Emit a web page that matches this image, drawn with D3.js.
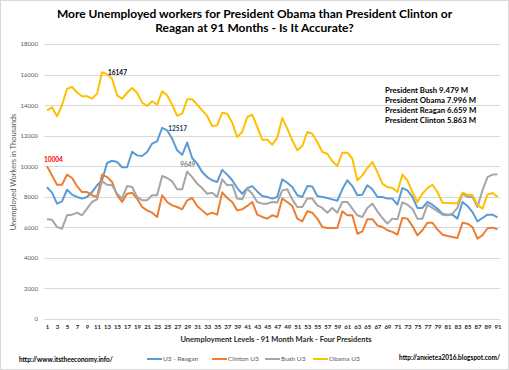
<!DOCTYPE html>
<html><head><meta charset="utf-8">
<script src="https://cdn.jsdelivr.net/npm/d3@7"></script>
<style>
body{margin:0;background:#fff;}
svg{font-family:Lato,"Open Sans",sans-serif;}
</style></head>
<body><svg id="c" width="509" height="370"></svg>
<script>
const months = [1,2,3,4,5,6,7,8,9,10,11,12,13,14,15,16,17,18,19,20,21,22,23,24,25,26,27,28,29,30,31,32,33,34,35,36,37,38,39,40,41,42,43,44,45,46,47,48,49,50,51,52,53,54,55,56,57,58,59,60,61,62,63,64,65,66,67,68,69,70,71,72,73,74,75,76,77,78,79,80,81,82,83,84,85,86,87,88,89,90,91];
const reagan = [8620,8270,7550,7700,8460,8140,7990,7880,7990,8310,8750,9080,10210,10360,10280,9930,9930,10950,10710,10670,10930,11480,11630,12517,12350,11800,11040,10750,11550,10540,10170,9620,9290,9080,8970,9760,9450,9080,8570,8200,8570,8700,8350,8050,7990,7880,7990,9140,8920,8640,8100,7990,8700,8670,8050,7990,7920,7830,7740,8490,9080,8700,8100,8140,8750,8490,7990,7990,7880,7880,7480,8570,8420,7990,7270,7270,7660,7480,7220,6890,6830,6830,6570,7660,7400,7000,6390,6610,6830,6830,6659];
const clinton = [10004,9400,8790,8790,9450,9230,8700,8310,8310,8100,7990,9450,9290,8970,8100,7660,8200,8260,7880,7330,7110,6960,6680,8100,7660,7440,7330,7180,7770,7920,7400,7110,6830,6960,6830,8290,7920,7660,7110,7180,7400,7660,6830,6680,6570,6790,6680,7880,7660,7400,6570,6390,7050,6960,6570,6020,5960,5960,5960,7050,6790,6790,5580,5740,6530,6530,6130,6020,5810,5700,5520,6610,6570,6090,5480,5810,6300,6300,5870,5520,5430,5370,5300,6300,6240,6020,5260,5480,5940,5980,5863];
const bush = [6530,6490,6020,5910,6790,6830,6960,6790,7220,7660,7830,9010,8790,8750,8200,7880,8700,8640,7990,7770,7770,8100,8100,9360,9230,9010,8490,8490,9649,9290,8860,8570,8200,8270,7990,9140,8750,8790,7880,7830,8530,8200,7660,7550,7550,7660,7620,8420,8490,7830,7330,7330,7880,7880,7440,7270,6960,7270,6960,7660,7660,7220,6790,6680,7270,7550,7050,6610,6240,6570,6530,7640,7480,7220,6570,6570,7480,7270,7050,6830,6790,6900,7270,8200,7990,7990,7330,8420,9290,9450,9479];
const obama = [13660,13857,13267,13990,15075,15185,14823,14580,14580,14420,14750,16147,16030,15730,14640,14420,14810,15120,14810,14160,13940,14250,14030,14900,14640,14030,13290,13440,14380,14380,14030,13660,13290,12630,12680,13500,13440,12850,11910,12240,13220,13370,12570,11740,11740,11410,11850,13160,12460,11700,11040,11320,12240,12130,11590,10930,10820,10320,10010,10890,10890,10490,9080,9400,9880,10280,9620,8860,8640,8570,8310,9450,9080,8310,7660,8200,8570,8790,8310,7610,7590,7570,7570,8270,8140,8100,7480,7220,8140,8250,7996];
const yTicks = [0,2000,4000,6000,8000,10000,12000,14000,16000,18000];
const xTicks = months.filter(m => m % 2 === 1);
const seriesNames = ["U3 - Reagan","Clinton U3","Bush U3","Obama U3"];
const seriesColors = ["#5b9bd5","#ed7d31","#a5a5a5","#ffc000"];
const seriesData = [reagan, clinton, bush, obama];
const noteLines = ["President Bush 9.479 M","President Obama 7.996 M","President Reagan 6.659 M","President Clinton 5.863 M"];
const titleLines = ["More Unemployed workers for President Obama than President Clinton or","Reagan at 91 Months - Is It Accurate?"];
const peaks = [
  {series:1, month:1, value:10004, color:"#ff0000", dx:-3, dy:-4},
  {series:3, month:12, value:16147, color:"#000000", dx:6, dy:3},
  {series:0, month:24, value:12517, color:"#203864", dx:6, dy:3},
  {series:2, month:29, value:9649, color:"#808080", dx:-7, dy:-5}
];

const svg = d3.select("#c");
svg.append("rect").attr("x",0.5).attr("y",0.5).attr("width",508).attr("height",369)
  .attr("fill","#fff").attr("stroke","#d9d9d9");

const x = d3.scalePoint().domain(months).range([44.5,500]).padding(0.5);
const y = d3.scaleLinear().domain([0,18000]).range([319,44]);

// title
svg.append("g").selectAll("text").data(titleLines).join("text")
  .attr("x",254.5).attr("y",(d,i)=>18+i*14)
  .attr("text-anchor","middle").attr("font-weight","bold").attr("font-size",12)
  .attr("fill","#000").text(d=>d);

// gridlines
svg.append("g").selectAll("line").data(yTicks).join("line")
  .attr("x1",44.5).attr("x2",500).attr("y1",d=>Math.round(y(d))+0.5).attr("y2",d=>Math.round(y(d))+0.5)
  .attr("stroke","#d9d9d9").attr("stroke-width",1);

// y axis
const yAxis = svg.append("g").attr("transform","translate(44,0)")
  .call(d3.axisLeft(y).tickValues(yTicks).tickSize(0).tickPadding(6).tickFormat(d3.format("d")));
yAxis.select(".domain").remove();
yAxis.selectAll("text").attr("font-size",6).attr("fill","#595959").attr("font-family","Lato,sans-serif");

// x axis
const xAxis = svg.append("g").attr("transform","translate(0,319)")
  .call(d3.axisBottom(x).tickValues(xTicks).tickSize(0).tickPadding(6));
xAxis.select(".domain").remove();
xAxis.selectAll("text").attr("font-size",6).attr("font-weight","bold").attr("fill","#262626").attr("font-family","Lato,sans-serif");

// axis titles
svg.append("text").attr("transform","translate(16,172) rotate(-90)")
  .attr("text-anchor","middle").attr("font-size",7.5).attr("fill","#595959")
  .text("Unemployed Workers in Thousands");
svg.append("text").attr("x",276).attr("y",341.5).attr("text-anchor","middle")
  .attr("font-size",7.5).attr("font-weight","bold").attr("fill","#262626")
  .text("Unemployment Levels - 91 Month Mark - Four Presidents");

// lines
const line = d3.line().x((d,i)=>x(months[i])).y(d=>y(d));
svg.append("g").selectAll("path").data(seriesData).join("path")
  .attr("d",d=>line(d)).attr("fill","none")
  .attr("stroke",(d,i)=>seriesColors[i]).attr("stroke-width",2)
  .attr("stroke-linejoin","round");

// peak labels
svg.append("g").selectAll("text").data(peaks).join("text")
  .attr("x",d=>x(d.month)+d.dx).attr("y",d=>y(d.value)+d.dy)
  .attr("font-size",6.5).attr("font-weight","bold").attr("fill",d=>d.color)
  .text(d=>d.value);

// note block
svg.append("g").selectAll("text").data(noteLines).join("text")
  .attr("x",385).attr("y",(d,i)=>93+i*10)
  .attr("font-size",7.8).attr("font-weight","bold").attr("fill","#000")
  .text(d=>d);

// legend
const legX = [147,212,265,313];
const leg = svg.append("g").selectAll("g").data(seriesNames).join("g")
  .attr("transform",(d,i)=>`translate(${legX[i]},359)`);
leg.append("line").attr("x1",0).attr("x2",15).attr("y1",0).attr("y2",0)
  .attr("stroke",(d,i)=>seriesColors[i]).attr("stroke-width",2);
leg.append("text").attr("x",16).attr("y",2.2).attr("font-size",6.5).attr("fill","#595959").text(d=>d);

// footer urls
svg.append("text").attr("x",19).attr("y",362).attr("font-size",6.5).attr("font-weight","bold")
  .attr("fill","#000").text("http://www.itstheeconomy.info/");
svg.append("text").attr("x",500).attr("y",360).attr("text-anchor","end").attr("font-size",6.5).attr("font-weight","bold")
  .attr("fill","#000").text("http://anxietea2016.blogspot.com/");
</script>
</body></html>
